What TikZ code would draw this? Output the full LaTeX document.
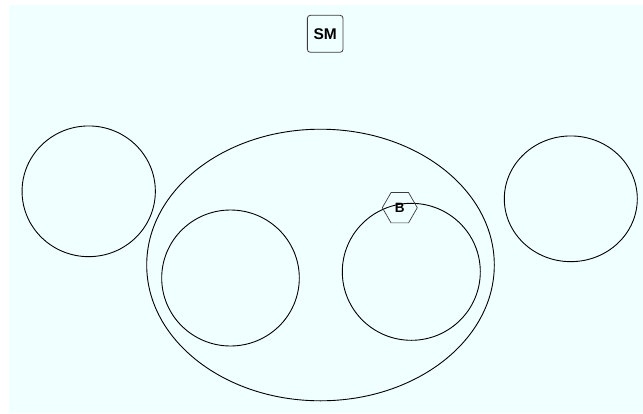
\documentclass[tikz,border=0pt]{standalone}
\usepackage{fontspec}
\setmainfont{Liberation Sans}
\usetikzlibrary{shapes.geometric}
\definecolor{bgcyan}{RGB}{240,255,255}
\definecolor{edgegray}{RGB}{60,60,60}

\begin{document}
\begin{tikzpicture}[x=1pt,y=-1pt,thick,
  set node/.style={ellipse,draw=black,line width=0.9pt,inner sep=0pt},
  label node/.style={font=\bfseries,text=black,inner sep=0pt}]
  \useasboundingbox (0,0) rectangle (643,413);
  \fill[bgcyan] (9,5) rectangle (643,413);
  \node[set node, minimum width=347.6pt, minimum height=271.6pt] (outer) at (320.5,265) {};
  \node[set node, minimum width=133.3pt, minimum height=130.7pt] (left) at (88.7,191.3) {};
  \node[set node, minimum width=133pt, minimum height=125.7pt] (right) at (570.8,198.8) {};
  \node[set node, minimum width=137.6pt, minimum height=136pt] (inL) at (230.5,278) {};
  \node[set node, minimum width=138pt, minimum height=137pt] (inR) at (411.3,271.8) {};
  \node[label node, regular polygon, regular polygon sides=6, draw=edgegray, line width=0.7pt,
        minimum size=35pt, font=\bfseries\fontsize{13.5}{15}\selectfont] (b) at (399.8,207.7) {B};
  \node[label node, draw=edgegray, line width=0.8pt, rounded corners=3pt,
        minimum width=35.7pt, minimum height=37pt, font=\bfseries\fontsize{15.5}{17}\selectfont] (sm) at (325.2,33.8) {SM};
\end{tikzpicture}
\end{document}
